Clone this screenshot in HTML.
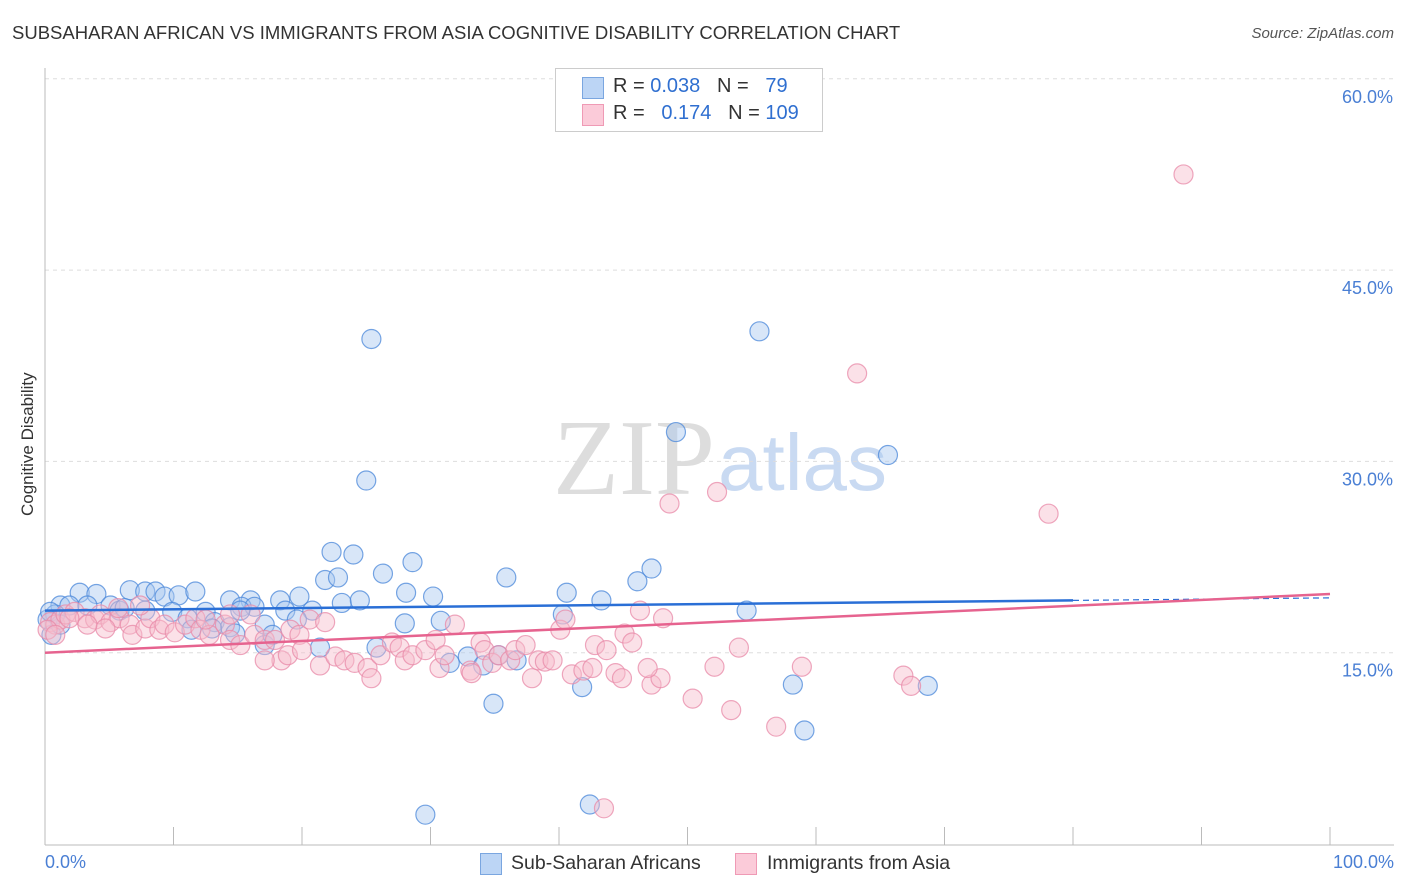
<!DOCTYPE html>
<html><head><meta charset="utf-8"><style>
body{margin:0;background:#fff;font-family:"Liberation Sans",sans-serif;}
#wrap{position:relative;width:1406px;height:892px;overflow:hidden;}
.t{position:absolute;white-space:nowrap;}
</style></head><body>
<div id="wrap">
<div class="t" style="left:12px;top:22px;font-size:18.5px;color:#333;">SUBSAHARAN AFRICAN VS IMMIGRANTS FROM ASIA COGNITIVE DISABILITY CORRELATION CHART</div>
<div class="t" style="right:12px;top:25px;font-size:15px;color:#555;font-style:italic;">Source: ZipAtlas.com</div>
<svg id="svg" width="1406" height="892" style="position:absolute;left:0;top:0"></svg>
</div>
<script>
const yTicks=[15,30,45,60];
const yTickLabels=["15.0%","30.0%","45.0%","60.0%"];
const blueX=[25.4,55.6,49.1,65.6,25.0,22.3,24.0,26.3,28.6,35.9,47.2,46.1,21.8,22.8,40.6,43.3,54.6,30.2,28.1,30.8,28.0,19.8,18.3,14.4,16.0,15.3,16.3,18.7,20.8,23.1,24.5,40.3,6.6,7.8,8.6,9.3,10.4,11.7,2.7,4.0,1.2,1.9,3.3,5.1,5.8,6.2,7.8,9.9,12.5,11.1,13.2,14.4,11.4,13.0,17.1,14.8,17.1,17.7,21.4,25.8,19.6,31.5,32.9,34.1,35.3,36.7,41.8,58.2,68.7,34.9,59.1,29.6,42.4,0.5,0.8,0.2,15.2,0.4,1.2];
const blueY=[39.6,40.2,32.3,30.5,28.5,22.9,22.7,21.2,22.1,20.9,21.6,20.6,20.7,20.9,19.7,19.1,18.3,19.4,19.7,17.5,17.3,19.4,19.1,19.1,19.1,18.6,18.6,18.3,18.3,18.9,19.1,18.0,19.9,19.8,19.8,19.4,19.5,19.8,19.7,19.6,18.7,18.7,18.7,18.7,18.3,18.5,18.3,18.2,18.2,17.7,17.4,17.0,16.8,16.9,17.2,16.5,15.6,16.4,15.4,15.4,17.6,14.2,14.7,14.0,14.8,14.4,12.3,12.5,12.4,11.0,8.9,2.3,3.1,16.4,18.0,17.6,18.3,18.2,17.2];
const pinkX=[88.6,63.2,52.3,48.6,78.1,0.4,0.8,1.2,1.6,2.3,3.1,3.9,4.3,5.1,5.8,6.6,4.7,6.8,7.8,8.2,8.9,9.3,10.1,10.9,11.7,12.1,12.8,14.0,14.4,15.2,16.3,17.1,17.9,19.1,19.8,20.6,21.8,18.4,18.9,20.0,21.4,22.6,23.3,24.1,25.1,25.4,26.1,27.0,27.6,28.0,28.6,29.6,30.4,30.7,31.1,31.9,33.1,33.2,33.9,34.2,34.8,35.3,36.2,36.6,37.4,37.9,38.4,38.9,39.5,40.1,40.5,41.0,41.9,42.6,42.8,43.7,44.4,44.9,45.1,45.7,46.3,47.2,47.9,46.9,48.1,50.4,52.1,53.4,54.0,58.9,56.9,66.8,67.4,43.5,0.2,0.8,1.9,3.3,7.4,5.7,17.1,14.4,12.5,16.0];
const pinkY=[52.5,36.9,27.6,26.7,25.9,17.4,17.2,17.6,18.0,18.2,17.7,17.6,18.0,17.4,17.7,17.2,16.9,16.4,16.9,17.7,16.8,17.2,16.6,17.2,17.7,16.8,16.4,17.2,16.0,15.6,16.4,16.0,16.0,16.8,16.4,17.6,17.4,14.4,14.8,15.2,14.0,14.7,14.4,14.2,13.8,13.0,14.8,15.8,15.4,14.4,14.8,15.2,16.0,13.8,14.8,17.2,13.6,13.4,15.8,15.2,14.2,14.8,14.4,15.2,15.6,13.0,14.4,14.3,14.4,16.8,17.6,13.3,13.6,13.8,15.6,15.2,13.4,13.0,16.5,15.8,18.3,12.5,13.0,13.8,17.7,11.4,13.9,10.5,15.4,13.9,9.2,13.2,12.4,2.8,16.8,16.4,17.7,17.2,18.7,18.5,14.4,18.0,17.6,18.0];
const blueTrend=[18.3,19.3];
const pinkTrend=[15.0,19.6];
const X0=45,X1=1330,Y0=844,YPER=191.3/15;
const sx=v=>X0+(X1-X0)*v/100, sy=v=>Y0-v*YPER;
const svg=document.getElementById('svg');const NS='http://www.w3.org/2000/svg';
function mk(t,a,p){const e=document.createElementNS(NS,t);for(const k in a)e.setAttribute(k,a[k]);(p||svg).appendChild(e);return e;}
let w=mk('text',{x:553,y:494,'font-size':108,fill:'#ddd','font-family':'Liberation Serif, serif'});w.textContent='ZIP';


let w2=mk('text',{x:718,y:490,'font-size':80,fill:'#c9daf2','font-family':'Liberation Sans, sans-serif'});w2.textContent='atlas';


yTicks.forEach((v,i)=>{
 const g=mk('line',{x1:X0,x2:1394,y1:sy(v),y2:sy(v),stroke:'#ddd','stroke-dasharray':'4,4'});
 
 
 const t=mk('text',{x:1393,y:sy(v)+24,'text-anchor':'end','font-size':18,fill:'#4a7fd4'});t.textContent=yTickLabels[i];
 
 
});
const ax=mk('line',{x1:X0,x2:X0,y1:68,y2:845,stroke:'#bbb'});


const bx=mk('line',{x1:X0,x2:1394,y1:845,y2:845,stroke:'#bbb'});


for(let i=0;i<=10;i++){const tk=mk('line',{x1:sx(i*10),x2:sx(i*10),y1:827,y2:845,stroke:'#bbb'});
 
 }
function pts(xs,ys,fill,stroke,name){xs.forEach((x,i)=>{const c=mk('circle',{cx:sx(x),cy:sy(ys[i]),r:9.5,fill:fill,'fill-opacity':0.45,stroke:stroke,'stroke-opacity':0.75,'stroke-width':1.2});
 
 });}
pts(blueX,blueY,'#a9c8f0','#4a87d9','blue-point');
pts(pinkX,pinkY,'#f7bccd','#e88aa8','pink-point');
const bl=mk('line',{x1:sx(0),y1:sy(blueTrend[0]),x2:sx(80),y2:sy(blueTrend[0]+(blueTrend[1]-blueTrend[0])*0.8),stroke:'#2a6fd6','stroke-width':2.5});


const bd=mk('line',{x1:sx(80),y1:sy(blueTrend[0]+(blueTrend[1]-blueTrend[0])*0.8),x2:sx(100),y2:sy(blueTrend[1]),stroke:'#2a6fd6','stroke-width':1.2,'stroke-dasharray':'6,4'});


const pl=mk('line',{x1:sx(0),y1:sy(pinkTrend[0]),x2:sx(100),y2:sy(pinkTrend[1]),stroke:'#e6638f','stroke-width':2.5});


</script>
<div class="t" style="left:45px;top:852px;font-size:18px;color:#4a7fd4;">0.0%</div>
<div class="t" style="right:12px;top:852px;font-size:18px;color:#4a7fd4;">100.0%</div>
<div class="t" style="left:-32px;top:446px;font-size:17px;color:#333;transform:rotate(-90deg);width:120px;text-align:center;">Cognitive Disability</div>
<div style="position:absolute;left:555px;top:68px;width:266px;height:62px;border:1px solid #ccc;background:#fff;font-size:20px;color:#333;">
 <div style="position:absolute;left:26px;top:8px;width:20px;height:20px;background:#bcd5f5;border:1px solid #7aa6e0;"></div>
 <div style="position:absolute;left:26px;top:35px;width:20px;height:20px;background:#fbcbd9;border:1px solid #ef9ab5;"></div>
 <div class="t" style="left:57px;top:6px;">R = <span style="color:#2f6fd0">0.038</span>&nbsp;&nbsp;&nbsp;N = &nbsp;&nbsp;<span style="color:#2f6fd0">79</span></div>
 <div class="t" style="left:57px;top:33px;">R = &nbsp;&nbsp;<span style="color:#2f6fd0">0.174</span>&nbsp;&nbsp;&nbsp;N = <span style="color:#2f6fd0">109</span></div>
</div>
<div style="position:absolute;left:480px;top:852px;font-size:19.5px;color:#333;">
 <div style="position:absolute;left:0;top:1px;width:20px;height:20px;background:#bcd5f5;border:1px solid #7aa6e0;"></div>
 <div class="t" style="left:31px;top:0;">Sub-Saharan Africans</div>
 <div style="position:absolute;left:255px;top:1px;width:20px;height:20px;background:#fbcbd9;border:1px solid #ef9ab5;"></div>
 <div class="t" style="left:287px;top:0;">Immigrants from Asia</div>
</div>
</body></html>
